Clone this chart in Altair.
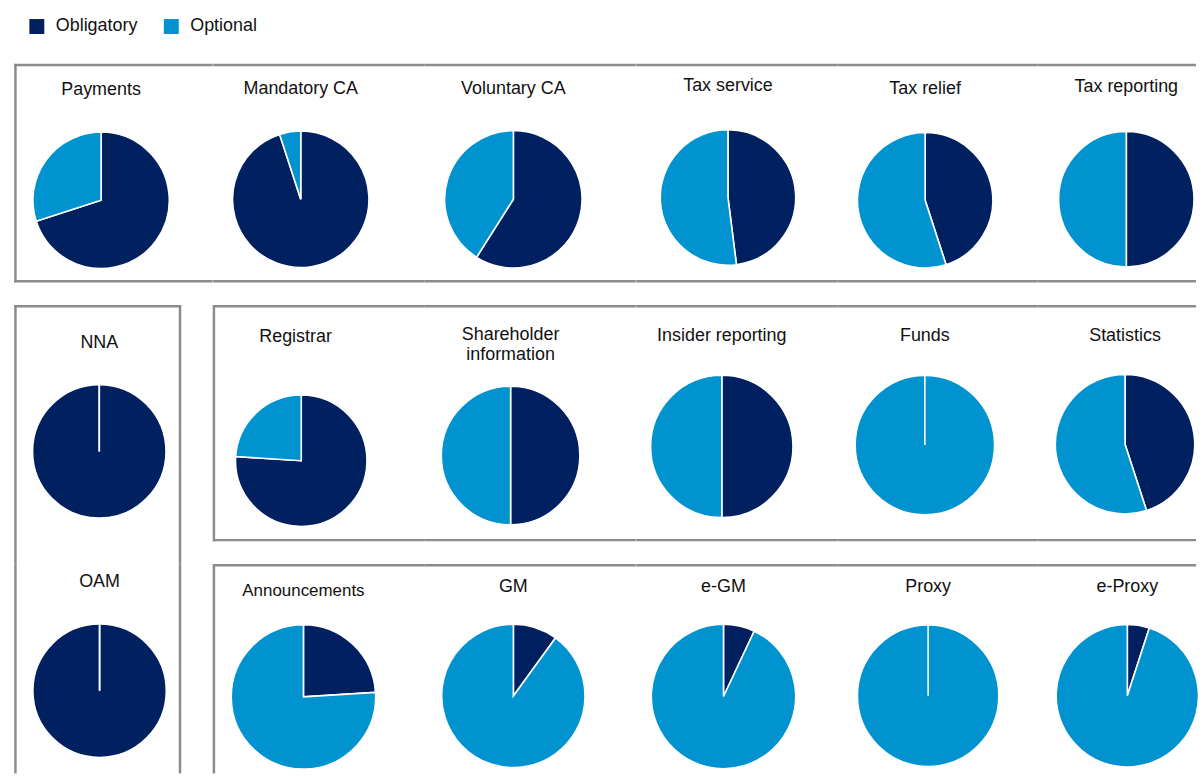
import altair as alt
import pandas as pd

# ---- data: share of obligatory participation (%) per service ----
categories = ["Obligatory", "Optional"]
colors = ["#002060", "#0093CF"]

top_names = ["Payments", "Mandatory CA", "Voluntary CA", "Tax service", "Tax relief", "Tax reporting"]
top_obligatory = [70, 95, 59, 48, 45, 50]

left_names = ["NNA", "OAM"]
left_obligatory = [100, 100]

mid_names = ["Registrar", "Shareholder information", "Insider reporting", "Funds", "Statistics"]
mid_obligatory = [76, 50, 50, 0, 45]

bottom_names = ["Announcements", "GM", "e-GM", "Proxy", "e-Proxy"]
bottom_obligatory = [24, 10, 7, 0, 5]

# ---- styling ----
FONT = "Liberation Sans"
TEXT_COLOR = "#111111"
BORDER = "#8c8c8c"
BORDER_W = 2.5
INSET = 3  # keeps frame lines inside the page at the right/bottom edge

color_scale = alt.Scale(domain=categories, range=colors)
legend = alt.Legend(
    title=None,
    orient="none",
    legendX=14,
    legendY=-47,
    direction="horizontal",
    symbolType="square",
    symbolSize=225,
    symbolStrokeWidth=0,
    labelFont=FONT,
    labelFontSize=18,
    labelColor=TEXT_COLOR,
    labelOffset=10,
    columnPadding=24,
    padding=0,
)

# ---- grid geometry: 6 columns x 3 rows of cells ----
COL_W = [199.5, 212, 212.5, 202, 201, 162]
ROW_H = [242, 260, 213]


def frame_line(orient, pos, start, end):
    src = pd.DataFrame({"edge": [orient]})
    base = alt.Chart(src).mark_rule(color=BORDER, strokeWidth=BORDER_W,
                                    strokeJoin="bevel", strokeCap="butt")
    if orient == "h":
        return base.encode(x=alt.value(start), x2=alt.value(end), y=alt.value(pos))
    return base.encode(x=alt.value(pos), y=alt.value(start), y2=alt.value(end))


def pie_cell(name, obligatory, w, h, px, py, r, ty, lines, fs=18, dx=0, wrap=False):
    shares = pd.DataFrame({"category": categories, "share": [obligatory, 100 - obligatory]})
    enc = dict(
        theta=alt.Theta("share:Q", stack=True),
        color=alt.Color("category:N", scale=color_scale, legend=legend),
        order=alt.Order("category:N", sort="ascending"),
        x=alt.value(px),
        y=alt.value(py),
    )
    base = alt.Chart(shares).mark_arc(radius=r, stroke="white", strokeWidth=1.6)
    pie = base.encode(**enc)
    # an empty slice keeps its white edge visible over the full one
    empty_edge = base.transform_filter("datum.share == 0").encode(**enc)
    text_opts = dict(font=FONT, fontSize=fs, color=TEXT_COLOR, align="center",
                     baseline="alphabetic", dx=dx)
    if wrap:
        text_opts.update(lineBreak=" ", lineHeight=20.7)
    title = alt.Chart(pd.DataFrame({"title": [name]})).mark_text(**text_opts).encode(
        text="title:N", x=alt.value(px), y=alt.value(ty)
    )
    layers = [pie, empty_edge, title] + [frame_line(*ln) for ln in lines]
    return alt.layer(*layers).properties(width=w, height=h)


cells = []

# row 1: top panel
TOP_PX = [87.5, 88, 89.5, 92, 88, 89]
TOP_PY = [136.5, 135.5, 135.5, 133.7, 136.5, 135.5]
TOP_R = [68.5, 68.5, 69, 68, 68, 68]
TOP_TY = [30.3, 29.7, 29.7, 27, 29.3, 27.7]
TOP_FS = [18, 18, 18, 18, 18, 18]
for i, (n, v) in enumerate(zip(top_names, top_obligatory)):
    w, h = COL_W[i], ROW_H[0]
    x0 = 0.25 if i == 0 else 0
    x1 = w - INSET if i == 5 else w
    lines = [("h", 0.75, x0, x1), ("h", 217.75, x0, x1)]
    if i == 0:
        lines.append(("v", 1.5, -0.5, 219))
    cells.append(pie_cell(n, v, w, h, TOP_PX[i], TOP_PY[i], TOP_R[i], TOP_TY[i],
                          lines, fs=TOP_FS[i]))

# row 2: NNA + middle panel
LEFT_PX = [85.7, 86]
LEFT_PY = [146.7, 127]
LEFT_R = [67, 67]
LEFT_TY = [42.7, 23.3]
MID_PX = [88.5, 86.7, 85.8, 87.7, 87.7]
MID_PY = [156, 150.8, 141.7, 140.3, 139.5]
MID_R = [66, 69.6, 71.5, 70, 70]
MID_TY = [36.7, 34.3, 35.7, 35.7, 35.7]
MID_DX = [-5.7, 0, 0, 0, 0]

h = ROW_H[1]
cells.append(pie_cell(left_names[0], left_obligatory[0], COL_W[0], h, LEFT_PX[0],
                      LEFT_PY[0], LEFT_R[0], LEFT_TY[0],
                      [("h", 1, 0.25, 168), ("v", 1.5, -0.25, h), ("v", 166.75, -0.25, h)]))
for i, (n, v) in enumerate(zip(mid_names, mid_obligatory)):
    w = COL_W[i + 1]
    x1 = w - INSET if i == 4 else w
    lines = [("h", 1, 0, x1), ("h", 235.75, 0, x1)]
    if i == 0:
        lines.append(("v", 0.8, -0.25, 237))
    cells.append(pie_cell(n, v, w, h, MID_PX[i], MID_PY[i], MID_R[i], MID_TY[i],
                          lines, dx=MID_DX[i], wrap=(n == "Shareholder information")))

# row 3: OAM + bottom panel
BOT_PX = [90.7, 89.5, 87.5, 91, 90]
BOT_PY = [133.2, 132.2, 132.8, 132, 132]
BOT_R = [72.5, 72, 72.5, 71, 71.5]
BOT_TY = [32.3, 27.7, 27.7, 27.7, 27.7]
BOT_FS = [17, 18, 18, 18, 18]

h = ROW_H[2]
cells.append(pie_cell(left_names[1], left_obligatory[1], COL_W[0], h, LEFT_PX[1],
                      LEFT_PY[1], LEFT_R[1], LEFT_TY[1],
                      [("v", 1.5, 0, h - INSET), ("v", 166.75, 0, h - INSET)]))
for i, (n, v) in enumerate(zip(bottom_names, bottom_obligatory)):
    w = COL_W[i + 1]
    x1 = w - INSET if i == 4 else w
    lines = [("h", 1, 0, x1)]
    if i == 0:
        lines.append(("v", 0.8, -0.25, h - INSET))
    cells.append(pie_cell(n, v, w, h, BOT_PX[i], BOT_PY[i], BOT_R[i], BOT_TY[i],
                          lines, fs=BOT_FS[i]))

chart = (
    alt.concat(*cells, columns=6, spacing=0, bounds="flush", align="each")
    .properties(padding={"left": 13, "top": 16, "right": 0, "bottom": 0},
                background="white")
    .configure_view(strokeWidth=0)
)

chart.save("out.html", embed_options={"renderer": "svg", "actions": False})
